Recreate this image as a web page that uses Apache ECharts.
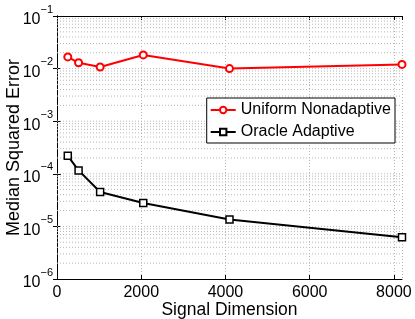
<!DOCTYPE html>
<html><head><meta charset="utf-8">
<script src="https://cdn.jsdelivr.net/npm/echarts@6/dist/echarts.min.js"></script>
<style>html,body{margin:0;padding:0;background:#fff}#c{width:415px;height:319px}</style>
</head><body><div id="c"></div>
<script>
const dims = [256, 512, 1024, 2048, 4096, 8192];
const uniformNonadaptive = [0.0167, 0.0129, 0.0107, 0.0182, 0.0100, 0.0120];
const oracleAdaptive = [2.2e-4, 1.16e-4, 4.5e-5, 2.79e-5, 1.35e-5, 6.2e-6];
const xTicks = [0, 2000, 4000, 6000, 8000];
const xMax = 8192;

const minorVals = [];
for (let n = -6; n <= -2; n++) {
  for (let k = 1; k <= 9; k++) {
    if (k === 1 && n === -6) continue;
    minorVals.push(k * Math.pow(10, n));
  }
}
const gridData = [];
minorVals.forEach(v => { gridData.push([0, v], [xMax, v], [xMax, '-']); });

const FONT = 'Liberation Sans';
const gridStyle = {color: '#b8b8b8', type: [1, 2], width: 1};
const chart = echarts.init(document.getElementById('c'), null, {renderer: 'canvas'});
const yLabel = v => {
  const e = Math.round(Math.log10(v));
  return '{b|10}{s|' + (e < 0 ? '\u2212' : '') + Math.abs(e) + '}';
};
chart.setOption({
  animation: false,
  textStyle: {fontFamily: FONT},
  grid: {left: 57, right: 13, top: 16, bottom: 40, containLabel: false, outerBoundsMode: 'none'},
  legend: {
    right: 20, top: 98, orient: 'vertical', itemGap: 6,
    backgroundColor: '#fff', borderColor: '#000', borderWidth: 1,
    padding: [4, 4, 3, 3], itemWidth: 25, itemHeight: 8,
    textStyle: {fontSize: 16, color: '#000', fontFamily: FONT},
    data: ['Uniform Nonadaptive', 'Oracle Adaptive']
  },
  xAxis: [{
    type: 'value', min: 0, max: xMax, interval: 2000,
    name: 'Signal Dimension', nameLocation: 'middle', nameGap: 22, nameMoveOverlap: false,
    nameTextStyle: {fontSize: 17.5, color: '#000', fontFamily: FONT},
    axisLine: {lineStyle: {color: '#000', width: 1}},
    axisTick: {inside: true, length: 4, lineStyle: {color: '#000'}},
    axisLabel: {fontSize: 16, color: '#000', margin: 6, fontFamily: FONT,
      formatter: v => xTicks.includes(v) ? String(v) : '', showMaxLabel: false},
    splitLine: {show: true, lineStyle: gridStyle}
  }, {
    type: 'value', min: 0, max: xMax, interval: 2000, position: 'top',
    axisLine: {show: true, lineStyle: {color: '#000'}},
    axisTick: {inside: true, length: 4, lineStyle: {color: '#000'}},
    axisLabel: {show: false}, splitLine: {show: false}
  }],
  yAxis: [{
    type: 'log', logBase: 10, min: 1e-6, max: 1e-1,
    name: 'Median Squared Error', nameLocation: 'middle', nameGap: 34, nameMoveOverlap: false,
    nameTextStyle: {fontSize: 18, color: '#000', fontFamily: FONT},
    axisLine: {show: true, lineStyle: {color: '#000'}},
    axisTick: {inside: true, length: 4, lineStyle: {color: '#000'}},
    axisLabel: {color: '#000', margin: 4, formatter: yLabel,
      rich: {b: {fontSize: 16, fontFamily: FONT, padding: [8, 0, 0, 0]},
             s: {fontSize: 11, fontFamily: FONT, verticalAlign: 'top', padding: [0, 0, 8, 0]}}},
    splitLine: {show: false}
  }, {
    type: 'log', logBase: 10, min: 1e-6, max: 1e-1, position: 'right',
    axisLine: {show: true, lineStyle: {color: '#000'}},
    axisTick: {inside: true, length: 4, lineStyle: {color: '#000'}},
    axisLabel: {show: false}, splitLine: {show: false}
  }],
  series: [{
    name: 'grid', type: 'line', data: gridData, silent: true,
    symbol: 'none', connectNulls: false, z: 0,
    lineStyle: gridStyle, itemStyle: {color: '#b8b8b8'}, tooltip: {show: false}
  }, {
    name: 'Uniform Nonadaptive', type: 'line',
    data: dims.map((d, i) => [d, uniformNonadaptive[i]]),
    color: '#ff0000', lineStyle: {width: 2, color: '#ff0000'},
    symbol: 'circle', symbolSize: 7,
    itemStyle: {color: '#fff', borderColor: '#ff0000', borderWidth: 2}
  }, {
    name: 'Oracle Adaptive', type: 'line',
    data: dims.map((d, i) => [d, oracleAdaptive[i]]),
    color: '#000', lineStyle: {width: 2, color: '#000'},
    symbol: 'rect', symbolSize: 7,
    itemStyle: {color: '#fff', borderColor: '#000', borderWidth: 1.5}
  }]
});
</script></body></html>
